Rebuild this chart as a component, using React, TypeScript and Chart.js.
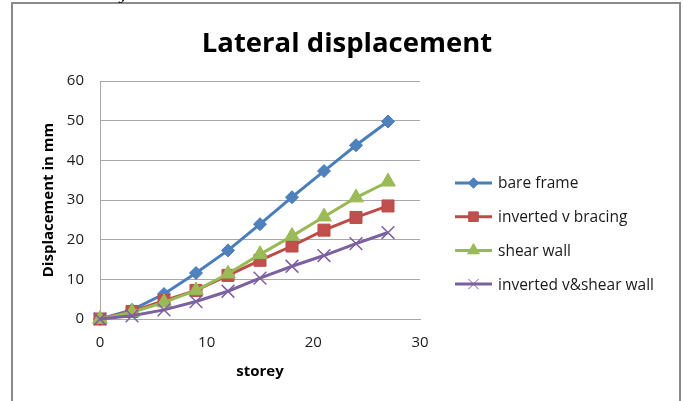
import React, { useEffect, useRef } from 'react';
import { Chart, registerables } from 'chart.js';
import { drawPoint } from 'chart.js/helpers';

Chart.register(...registerables);

const chartTitle = 'Lateral displacement';
const xAxisTitle = 'storey';
const yAxisTitle = 'Displacement in mm';

const storeys = [0, 3, 6, 9, 12, 15, 18, 21, 24, 27];
const bareFrame = [0, 2.3, 6.3, 11.6, 17.3, 23.9, 30.7, 37.3, 43.8, 49.8];
const invertedVBracing = [0, 1.9, 4.6, 7.2, 11.0, 14.8, 18.4, 22.4, 25.6, 28.5];
const shearWall = [0, 1.7, 4.2, 7.2, 11.4, 16.3, 20.9, 25.8, 30.6, 34.6];
const invertedVShearWall = [0, 0.8, 2.3, 4.4, 7.0, 10.3, 13.3, 16.0, 19.0, 21.8];

const seriesNames = ['bare frame', 'inverted v bracing', 'shear wall', 'inverted v&shear wall'];
const xMin = 0;
const xMax = 30;
const xStep = 10;
const yMin = 0;
const yMax = 60;
const yStep = 10;

const FONT = "'Open Sans', 'Noto Sans', sans-serif";
const GRID = '#a8a8a8';
const TEXT = '#1a1a1a';

const styles = [
  { line: '#4A7EBB', fill: '#4F81BD', point: 'rectRot', radius: 6.5, order: 3 },
  { line: '#BE4B48', fill: '#C0504D', point: 'rect', radius: 8.5, order: 2 },
  { line: '#98B954', fill: '#9BBB59', point: 'triangle', radius: 8.5, order: 1 },
  { line: '#7D60A0', fill: '#8064A2', point: 'crossRot', radius: 9, order: 0 },
];

const decorPlugin = {
  id: 'decor',
  beforeDraw(chart: any) {
    const ctx = chart.ctx;
    ctx.save();
    ctx.fillStyle = '#ffffff';
    ctx.fillRect(0, 0, chart.width, chart.height);
    ctx.restore();
  },
  afterDraw(chart: any) {
    const ctx = chart.ctx;
    ctx.save();
    // outer frame
    ctx.strokeStyle = '#8a8a8a';
    ctx.lineWidth = 2;
    ctx.strokeRect(12, 3, 668, 430);
    // fragment of text above the frame
    ctx.fillStyle = '#000';
    ctx.font = "italic 14px 'DejaVu Serif', serif";
    ctx.textBaseline = 'alphabetic';
    ctx.fillText('y', 119, 0);
    // title
    ctx.fillStyle = '#000';
    ctx.font = `bold 27.5px ${FONT}`;
    ctx.textAlign = 'center';
    ctx.fillText(chartTitle, 347, 52);
    // legend
    ctx.textAlign = 'left';
    ctx.textBaseline = 'middle';
    ctx.font = `15.5px ${FONT}`;
    chart.data.datasets.forEach((ds: any, i: number) => {
      const y = 183 + i * 33.7;
      ctx.strokeStyle = ds.borderColor;
      ctx.lineWidth = 3;
      ctx.beginPath();
      ctx.moveTo(455, y);
      ctx.lineTo(492, y);
      ctx.stroke();
      ctx.fillStyle = ds.pointBackgroundColor;
      ctx.strokeStyle = ds.pointBorderColor;
      ctx.lineWidth = 1;
      drawPoint(ctx, { pointStyle: ds.pointStyle, radius: ds.pointRadius * 0.8, rotation: 0, borderWidth: 1 }, 473.5, y);
      ctx.fillStyle = TEXT;
      ctx.fillText(ds.label, 498, y + 1);
    });
    ctx.restore();
  },
};

export default function App() {
  const canvasRef = useRef<HTMLCanvasElement | null>(null);

  useEffect(() => {
    const canvas = canvasRef.current;
    if (!canvas) return;
    const seriesData = [bareFrame, invertedVBracing, shearWall, invertedVShearWall];
    const chart = new Chart(canvas, {
      type: 'line',
      data: {
        datasets: seriesData.map((vals, i) => ({
          label: seriesNames[i],
          data: storeys.map((x, j) => ({ x, y: vals[j] })),
          borderColor: styles[i].line,
          backgroundColor: styles[i].fill,
          pointBackgroundColor: styles[i].fill,
          pointBorderColor: styles[i].line,
          pointBorderWidth: i === 3 ? 1.5 : 1,
          pointStyle: styles[i].point as any,
          pointRadius: styles[i].radius,
          borderWidth: 3,
          tension: 0,
          fill: false,
          clip: false as any,
          order: styles[i].order,
        })),
      },
      options: {
        responsive: false,
        animation: false,
        events: [],
        layout: { padding: { left: 0, right: 263, top: 81, bottom: 0 } },
        plugins: {
          legend: { display: false },
          title: { display: false },
          tooltip: { enabled: false },
        },
        scales: {
          x: {
            type: 'linear',
            min: xMin,
            max: xMax,
            ticks: { stepSize: xStep, padding: 15, color: TEXT, font: { family: FONT, size: 15 } },
            grid: { display: false, drawTicks: false },
            border: { display: true, color: GRID },
            title: {
              display: true,
              text: xAxisTitle,
              color: '#000',
              font: { family: FONT, size: 15, weight: 'bold' },
              padding: { top: 0, bottom: 20 },
            },
            afterFit: (s: any) => { s.height = 82; },
          },
          y: {
            type: 'linear',
            min: yMin,
            max: yMax,
            ticks: { stepSize: yStep, padding: 16, color: TEXT, font: { family: FONT, size: 15 } },
            grid: { color: GRID, drawTicks: false },
            border: { display: true, color: GRID },
            title: {
              display: true,
              text: yAxisTitle,
              color: '#000',
              font: { family: FONT, size: 15, weight: 'bold' },
              padding: { top: 40, bottom: 0 },
            },
            afterFit: (s: any) => { s.width = 100; },
          },
        },
      },
      plugins: [decorPlugin],
    });
    return () => chart.destroy();
  }, []);

  return (
    <div style={{ position: 'fixed', left: 0, top: 0, width: 683, height: 401, background: '#fff' }}>
      <canvas ref={canvasRef} width={683} height={401} style={{ display: 'block', width: 683, height: 401 }} />
    </div>
  );
}
